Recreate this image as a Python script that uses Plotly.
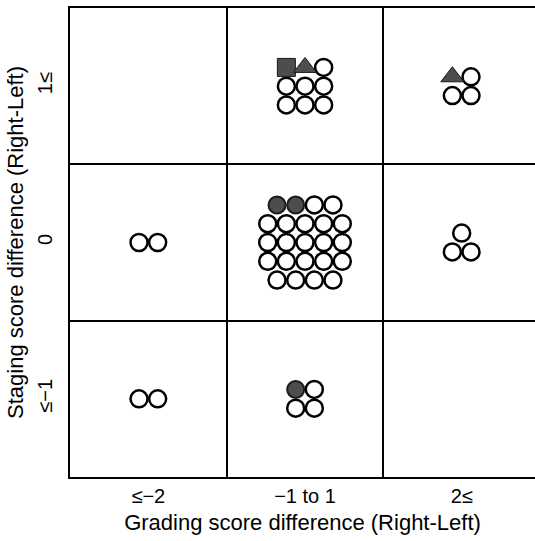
import plotly.graph_objects as go

# Category labels along each axis
grade_labels = ["≤−2", "−1 to 1", "2≤"]
stage_labels = ["≤−1", "0", "1≤"]

# Marker codes: o = open circle, f = filled circle, s = filled square, t = filled triangle
# Each cell lists its rows of markers from top to bottom.
cell_grade = [1, 2, 0, 1, 2, 0, 1]
cell_stage = [2, 2, 1, 1, 1, 0, 0]
cell_rows = [
    ["sto", "ooo", "ooo"],
    ["to", "oo"],
    ["oo"],
    ["ffoo", "ooooo", "ooooo", "ooooo", "oooo"],
    ["o", "oo"],
    ["oo"],
    ["fo", "oo"],
]

X_STEP = 0.119
Y_STEP = 0.12

styles = {
    "o": dict(symbol="circle", size=17, color="white", line=dict(color="black", width=2.5)),
    "f": dict(symbol="circle", size=17, color="#4d4d4d", line=dict(color="#1a1a1a", width=2)),
    "s": dict(symbol="square", size=18, color="#4d4d4d", line=dict(color="#1a1a1a", width=1)),
    "t": dict(symbol="triangle-up", size=20, color="#4d4d4d", line=dict(color="#1a1a1a", width=1)),
}

pts = {k: ([], []) for k in styles}
for g, s, rows in zip(cell_grade, cell_stage, cell_rows):
    cx, cy = g + 0.5, s + 0.5
    n = len(rows)
    for i, row in enumerate(rows):
        m = len(row)
        y = cy + ((n - 1) / 2 - i) * Y_STEP
        for j, code in enumerate(row):
            x = cx + (j - (m - 1) / 2) * X_STEP
            pts[code][0].append(x)
            pts[code][1].append(y)

fig = go.Figure()
for code, (xs, ys) in pts.items():
    fig.add_trace(go.Scatter(x=xs, y=ys, mode="markers", marker=styles[code],
                             hoverinfo="skip", showlegend=False, cliponaxis=False))

font = "Liberation Sans, Arial, sans-serif"
fig.update_layout(
    width=535, height=541,
    margin=dict(l=70, r=0, t=8, b=64),
    paper_bgcolor="white", plot_bgcolor="white",
    font=dict(family=font, color="black"),
    showlegend=False,
)
fig.update_xaxes(
    range=[0, 2.968], tickvals=[0.5, 1.5, 2.5], ticktext=grade_labels,
    tickfont=dict(size=20), ticks="", showgrid=False, zeroline=False,
    showline=True, linecolor="black", linewidth=1.5, mirror=True,
    minor=dict(tickvals=[1, 2], showgrid=True, gridcolor="black", gridwidth=1.5, ticks=""),
    title=dict(text="Grading score difference (Right-Left)", font=dict(size=22), standoff=9),
    fixedrange=True,
)
fig.update_yaxes(
    range=[0, 3], tickvals=[0.5, 1.5, 2.5], ticktext=stage_labels, tickangle=-90,
    tickfont=dict(size=20), ticks="", showgrid=False, zeroline=False, ticklabelstandoff=8,
    showline=True, linecolor="black", linewidth=1.5,
    minor=dict(tickvals=[1, 2], showgrid=True, gridcolor="black", gridwidth=1.5, ticks=""),
    title=dict(text="Staging score difference (Right-Left)", font=dict(size=22), standoff=5),
    fixedrange=True,
)

fig.write_html("out.html")
